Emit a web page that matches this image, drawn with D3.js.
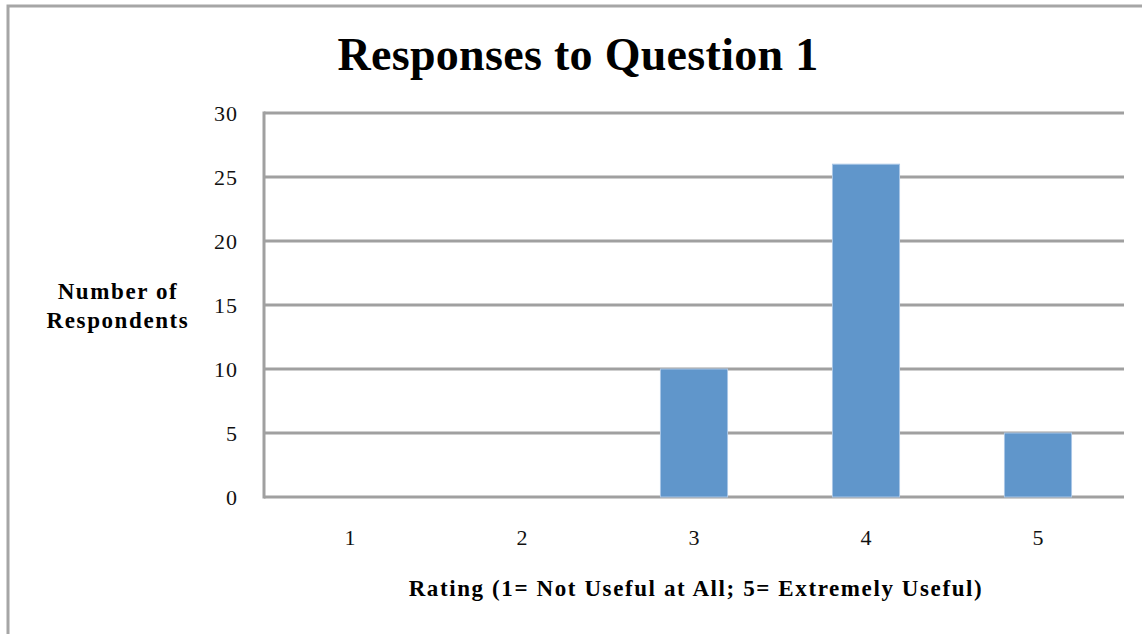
<!DOCTYPE html>
<html>
<head>
<meta charset="utf-8">
<script src="https://cdn.jsdelivr.net/npm/d3@7"></script>
<style>
  html, body { margin: 0; padding: 0; background: #fff; }
  svg { display: block; }
</style>
</head>
<body>
<svg id="chart" width="1142" height="634"></svg>
<script>
// Survey results: number of respondents for each usefulness rating
const ratings = ["1", "2", "3", "4", "5"];
const respondents = [0, 0, 10, 26, 5];
const yTicks = [0, 5, 10, 15, 20, 25, 30];

const titleText = "Responses to Question 1";
const yTitleLines = ["Number of", "Respondents"];
const xTitleText = "Rating (1= Not Useful at All; 5= Extremely Useful)";

const svg = d3.select("#chart");
const W = 1142, H = 634;
const serif = "'Liberation Serif', 'Times New Roman', serif";

// outer chart frame (runs past the right and bottom edges)
svg.append("rect")
  .attr("x", 8).attr("y", 6)
  .attr("width", W + 20).attr("height", H + 20)
  .attr("fill", "#fff")
  .attr("stroke", "#a6a6a6").attr("stroke-width", 3);

const plot = { left: 264, right: 1124, top: 113, bottom: 497 };

const x = d3.scaleBand()
  .domain(ratings)
  .range([plot.left, plot.right])
  .paddingInner(0.61)
  .paddingOuter(0.305);

const y = d3.scaleLinear()
  .domain([0, 30])
  .range([plot.bottom, plot.top]);

// horizontal gridlines
svg.append("g")
  .selectAll("line")
  .data(yTicks)
  .join("line")
  .attr("x1", plot.left).attr("x2", plot.right)
  .attr("y1", d => y(d)).attr("y2", d => y(d))
  .attr("stroke", "#a0a0a0").attr("stroke-width", 3);

// bars
svg.append("g")
  .selectAll("rect")
  .data(ratings.map((r, i) => ({ r, v: respondents[i] })).filter(d => d.v > 0))
  .join("rect")
  .attr("x", d => x(d.r))
  .attr("y", d => y(d.v))
  .attr("width", x.bandwidth())
  .attr("height", d => y(0) - y(d.v))
  .attr("fill", "#6096cb")
  .attr("stroke", "#a9c6e6").attr("stroke-width", 1);

// vertical axis line
svg.append("line")
  .attr("x1", plot.left).attr("x2", plot.left)
  .attr("y1", plot.top - 1.5).attr("y2", plot.bottom + 1.5)
  .attr("stroke", "#a0a0a0").attr("stroke-width", 3);

// y tick labels
const yAxis = d3.axisLeft(y).tickValues(yTicks).tickSize(0).tickPadding(26);
const gy = svg.append("g").attr("transform", `translate(${plot.left},0)`).call(yAxis);
gy.select(".domain").remove();
gy.selectAll("text")
  .attr("font-family", serif)
  .attr("font-size", 22)
  .attr("letter-spacing", 1)
  .attr("fill", "#111");

// x tick labels
const xAxis = d3.axisBottom(x).tickSize(0).tickPadding(32);
const gx = svg.append("g").attr("transform", `translate(0,${plot.bottom})`).call(xAxis);
gx.select(".domain").remove();
gx.selectAll("text")
  .attr("font-family", serif)
  .attr("font-size", 22)
  .attr("fill", "#111");

// chart title
svg.append("text")
  .attr("x", 578).attr("y", 70)
  .attr("text-anchor", "middle")
  .attr("font-family", serif)
  .attr("font-weight", "bold")
  .attr("font-size", 46)
  .attr("letter-spacing", 0.3)
  .attr("fill", "#000")
  .text(titleText);

// y axis title (two lines)
svg.append("text")
  .attr("text-anchor", "middle")
  .attr("font-family", serif)
  .attr("font-weight", "bold")
  .attr("font-size", 23)
  .attr("letter-spacing", 1.6)
  .attr("fill", "#000")
  .selectAll("tspan")
  .data(yTitleLines)
  .join("tspan")
  .attr("x", 118)
  .attr("y", (d, i) => 299 + i * 29)
  .text(d => d);

// x axis title
svg.append("text")
  .attr("x", 696).attr("y", 596)
  .attr("text-anchor", "middle")
  .attr("font-family", serif)
  .attr("font-weight", "bold")
  .attr("font-size", 23)
  .attr("letter-spacing", 1.6)
  .attr("fill", "#000")
  .text(xTitleText);
</script>
</body>
</html>
